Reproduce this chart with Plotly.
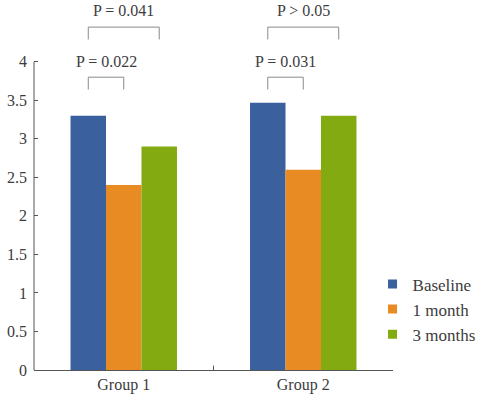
import plotly.graph_objects as go

categories = ["Group 1", "Group 2"]
series_names = ["Baseline", "1 month", "3 months"]
baseline = [3.3, 3.47]
one_month = [2.4, 2.6]
three_months = [2.9, 3.3]
colors = ["#3A609E", "#E88B22", "#84AA12"]
y_ticks = [0, 0.5, 1, 1.5, 2, 2.5, 3, 3.5, 4]
y_tick_text = ["0", "0.5", "1", "1.5", "2", "2.5", "3", "3.5", "4"]

# comparisons: (category index, from series, to series, label, level)
comparisons = [
    (0, 0, 1, "P = 0.022", 0),
    (0, 0, 2, "P = 0.041", 1),
    (1, 0, 1, "P = 0.031", 0),
    (1, 0, 2, "P > 0.05", 1),
]
bracket_levels = [(3.64, 3.80, 4.01), (4.29, 4.45, 4.66)]  # (bottom, top, label y)

FONT = "Times New Roman, Liberation Serif, DejaVu Serif, serif"
TXT = "#3c3c3c"
bargap = 0.407

fig = go.Figure()
for name, vals, c in zip(series_names, [baseline, one_month, three_months], colors):
    fig.add_trace(go.Bar(x=list(range(len(categories))), y=vals, name=name,
                         marker=dict(color=c, line=dict(width=0)), showlegend=False))
    fig.add_trace(go.Scatter(x=[None], y=[None], mode="markers", name=name,
                             marker=dict(symbol="square", size=9, color=c)))

n = len(series_names)
gw = 1 - bargap
offsets = [(-gw / 2 + gw / n * (i + 0.5)) for i in range(n)]

for cat, s1, s2, label, lvl in comparisons:
    x1 = cat + offsets[s1]
    x2 = cat + offsets[s2]
    yb, yt, yl = bracket_levels[lvl]
    fig.add_shape(type="path", xref="x", yref="y",
                  path=f"M {x1},{yb} L {x1},{yt} L {x2},{yt} L {x2},{yb}",
                  line=dict(color="#8a8a8a", width=1))
    fig.add_annotation(x=(x1 + x2) / 2, y=yl, xref="x", yref="y", text=label,
                       showarrow=False, font=dict(family=FONT, size=16, color=TXT))

# y axis line from 0 to 4
fig.add_shape(type="line", xref="paper", yref="y", x0=0, x1=0, y0=0, y1=4,
              line=dict(color="#555555", width=1))

fig.update_layout(
    width=485, height=401,
    margin=dict(l=34, r=92, t=4, b=31),
    paper_bgcolor="white", plot_bgcolor="white",
    barmode="group", bargap=bargap, bargroupgap=0,
    font=dict(family=FONT, size=16, color=TXT),
    xaxis=dict(range=[-0.5, 1.5], tickvals=[0, 1], ticktext=categories,
               showline=True, linecolor="#555555", linewidth=1,
               showgrid=False, zeroline=False, ticks="", tickfont=dict(size=16)),
    yaxis=dict(range=[0, 4.75], tickvals=y_ticks, ticktext=y_tick_text,
               showline=False, showgrid=False, zeroline=False,
               ticks="inside", ticklen=4, tickcolor="#555555",
               ticklabelstandoff=6, tickfont=dict(size=16)),
    legend=dict(x=0.943, xanchor="left", y=0.283, yanchor="top",
                font=dict(family=FONT, size=17, color=TXT),
                bgcolor="rgba(0,0,0,0)"),
)
# middle boundary tick on x axis
fig.add_shape(type="line", xref="x", yref="paper", x0=0.5, x1=0.5, y0=0, y1=0.012,
              line=dict(color="#555555", width=1))

fig.write_html("out.html", config={"displayModeBar": False},
               post_script="document.body.style.margin='0';document.body.style.overflow='hidden';")
